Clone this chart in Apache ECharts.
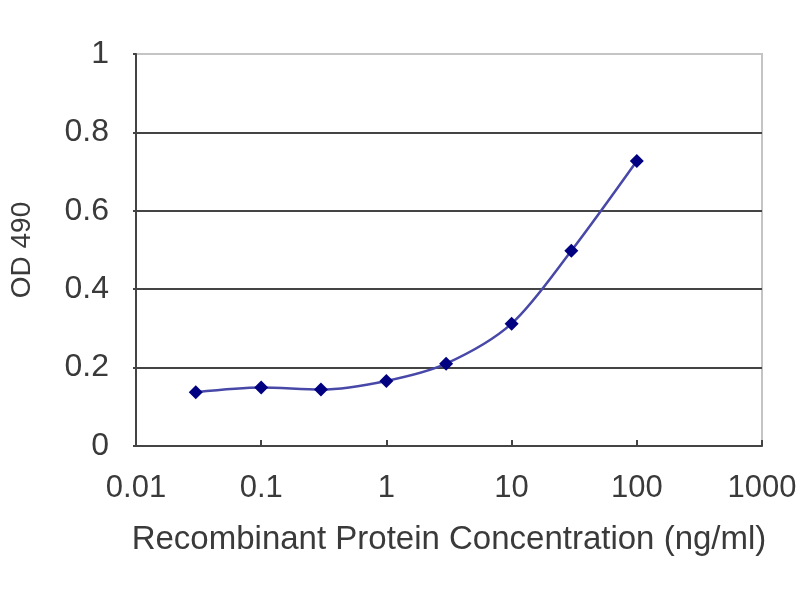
<!DOCTYPE html>
<html>
<head>
<meta charset="utf-8">
<script src="https://cdn.jsdelivr.net/npm/echarts@6/dist/echarts.min.js"></script>
<style>html,body{margin:0;padding:0;background:#fff}#c{width:800px;height:600px}</style>
</head>
<body>
<div id="c"></div>
<script>
var concentrations = [0.03, 0.1, 0.3, 1, 3, 10, 30, 100];
var odValues = [0.137, 0.149, 0.144, 0.166, 0.210, 0.312, 0.498, 0.727];
var xTickLabels = ['0.01', '0.1', '1', '10', '100', '1000'];
var yTickLabels = ['0', '0.2', '0.4', '0.6', '0.8', '1'];

var chart = echarts.init(document.getElementById('c'));
var font = 'Liberation Sans, Arial, sans-serif';
chart.setOption({
  animation: false,
  backgroundColor: '#fff',
  grid: {left: 132, right: 38, top: 54, bottom: 154, show: true, borderColor: '#c4c4c4', borderWidth: 2, backgroundColor: 'transparent'},
  xAxis: {
    type: 'log', logBase: 10, min: 0.01, max: 1000,
    name: 'Recombinant Protein Concentration (ng/ml)',
    nameLocation: 'middle', nameGap: 77,
    nameTextStyle: {fontFamily: font, fontSize: 33, color: '#3a3a3a'},
    axisLine: {lineStyle: {color: '#444', width: 2}},
    axisTick: {inside: true, length: 6, lineStyle: {color: '#444', width: 2}},
    splitLine: {show: false},
    minorTick: {show: false},
    axisLabel: {
      margin: 27, fontFamily: font, fontSize: 31, color: '#3a3a3a',
      formatter: function (v) {
        var i = Math.round(Math.log10(v)) + 2;
        return xTickLabels[i] !== undefined ? xTickLabels[i] : '';
      }
    }
  },
  yAxis: {
    type: 'value', min: 0, max: 1, interval: 0.2,
    name: 'OD 490', nameLocation: 'middle', nameGap: 100, nameRotate: 90,
    nameTextStyle: {fontFamily: font, fontSize: 28, color: '#3a3a3a'},
    axisLine: {show: true, lineStyle: {color: '#444', width: 2}},
    axisTick: {show: true, length: 3, lineStyle: {color: '#444', width: 2}},
    splitLine: {lineStyle: {color: ['#444', '#444', '#444', '#444', '#444', '#c4c4c4'], width: 2}},
    axisLabel: {
      margin: 27, fontFamily: font, fontSize: 32, color: '#3a3a3a',
      formatter: function (v) { return yTickLabels[Math.round(v / 0.2)]; }
    }
  },
  series: [{
    type: 'line',
    data: concentrations.map(function (c, i) { return [c, odValues[i]]; }),
    smooth: 0.3,
    symbol: 'diamond', symbolSize: 14,
    itemStyle: {color: '#000080'},
    lineStyle: {color: '#4848a8', width: 2.5}
  }]
});
</script>
</body>
</html>
